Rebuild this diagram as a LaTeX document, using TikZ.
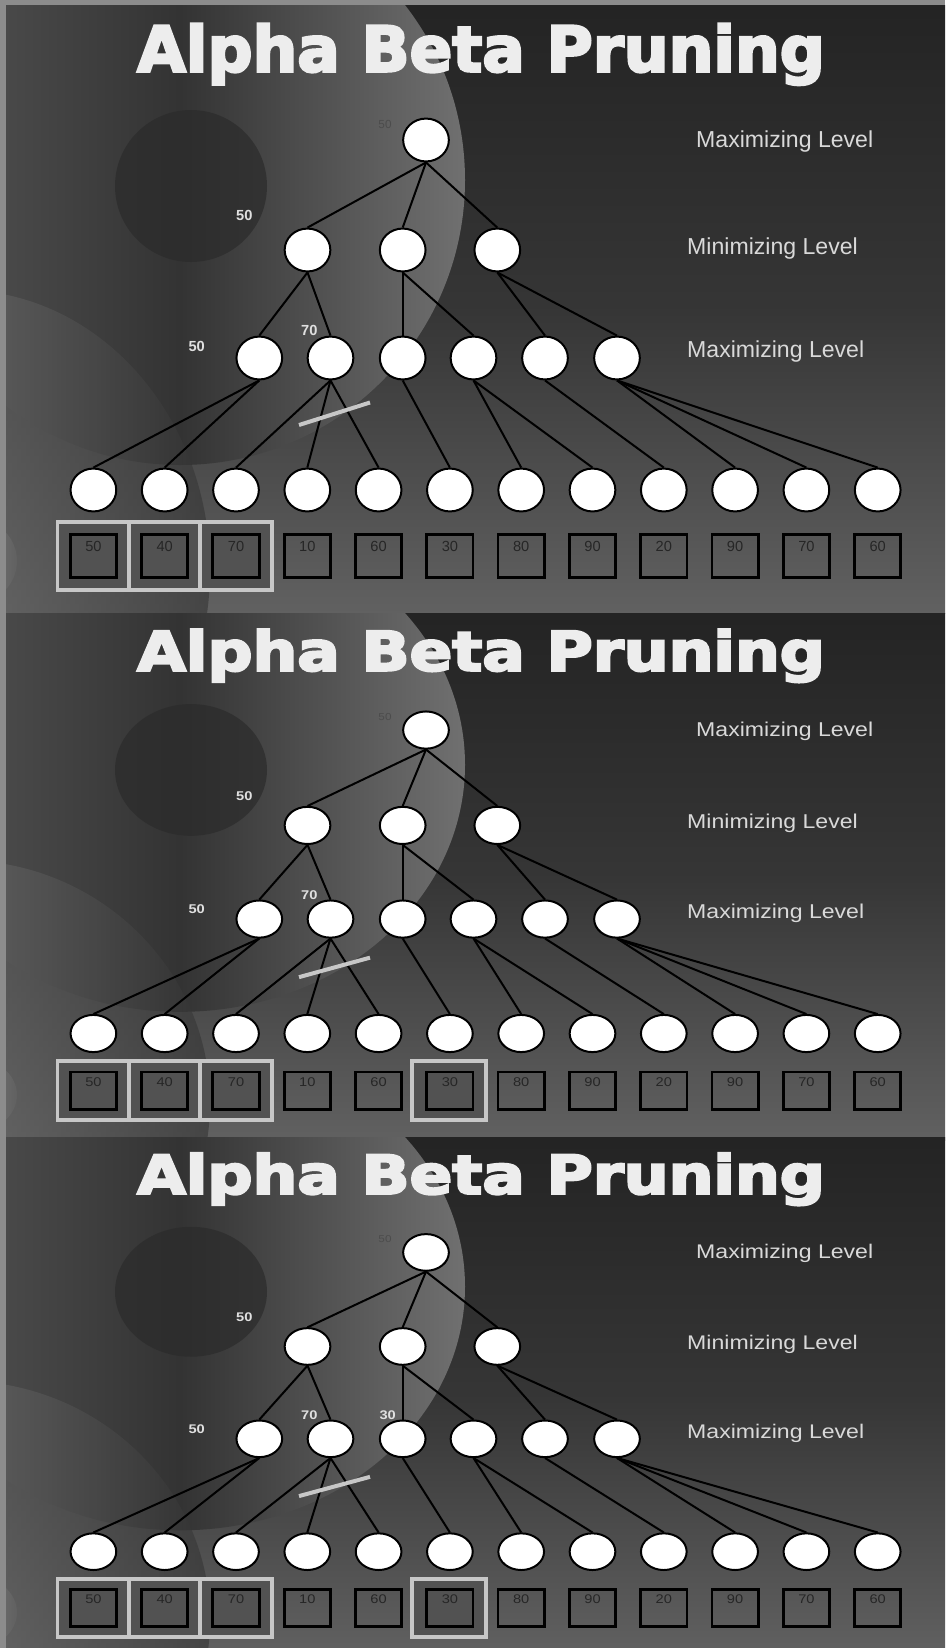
\documentclass[tikz,border=0pt]{standalone}
\usepackage{fontspec}
\setmainfont{Liberation Sans}
\newfontfamily\titlefont[FakeBold=4]{DejaVu Sans Bold}
\usetikzlibrary{positioning, shapes.geometric}

\begin{document}
\begin{tikzpicture}[x=0.03cm, y=-0.03cm,
    tnode/.style={ellipse, draw=black, fill=white, line width=1.7pt,
      minimum width=39pt, minimum height=36.6pt, inner sep=0pt},
    edge/.style={black, line width=1.7pt},
    vbox/.style={draw=black, line width=2.4pt, minimum width=39.5pt,
      minimum height=36.8pt, inner sep=0pt},
    hlbox/.style={draw=black!22, fill=black!68, line width=3.2pt},
    numtxt/.style={text=black!85, font=\fontsize{12.5}{14}\selectfont, inner sep=0pt},
    valtxt/.style={text=black!12, font=\bfseries\fontsize{12.5}{14}\selectfont, inner sep=0pt},
    dimtxt/.style={text=black!70, font=\fontsize{10}{12}\selectfont, inner sep=0pt},
    lvltxt/.style={text=black!15, font=\fontsize{19.7}{22}\selectfont, inner sep=0pt, anchor=base west},
    titletxt/.style={text=black!7, font=\titlefont\fontsize{53.7}{60}\selectfont, inner sep=0pt, anchor=base},
    cut/.style={draw=black!22, line width=3.4pt}]
    \useasboundingbox (0,0) rectangle (945,1648);
    \fill[black!45] (0,0) rectangle (945,1648);
    % one slide per step, each squeezed a little
    \foreach \sy/\ys/\sid in {5/1/1, 613/0.867/2, 1137/0.855/3} {
      \begin{scope}[shift={(0,\sy)}, yscale=\ys, transform shape]
        \clip (6,0) rectangle (945,608);
        % background
        \shade[top color=black!86, bottom color=black!62, middle color=black!79]
          (6,0) rectangle (945,608);
        \shade[left color=black!66, right color=black!56, middle color=black!80]
          (180,175) circle[radius=285];
        \shade[left color=black!62, right color=black!80, middle color=black!58, opacity=0.6]
          (-40,565) ellipse[x radius=250, y radius=280];
        \fill[black!83, opacity=0.7] (191,181) circle[radius=76];
        \shade[left color=black!45, right color=black!62] (-25,556) circle[radius=42];
        % title and level names
        \node[titletxt] (ttl) at (481,66.5) {Alpha Beta Pruning};
        \node[lvltxt] (lv1) at (696,142.5) {Maximizing Level};
        \node[lvltxt] (lv2) at (687,249) {Minimizing Level};
        \node[lvltxt] (lv3) at (687,352.3) {Maximizing Level};
        % tree
        \node[tnode] (r) at (426,135) {};
        \node[tnode] (a1) at (307.5,245) {};
        \node[tnode] (a2) at (402.7,245) {};
        \node[tnode] (a3) at (497.3,245) {};
        \foreach \x [count=\i] in {259.3,330.5,402.7,473.5,545,617}
          \node[tnode] (b\i) at (\x,353) {};
        \foreach \i in {1,...,12}
          \node[tnode] (c\i) at ({93.4+71.3*(\i-1)},485) {};
        \foreach \u/\v in {r/a1, r/a2, r/a3, a1/b1, a1/b2, a2/b3, a2/b4, a3/b5,
            a3/b6, b1/c1, b1/c2, b2/c3, b2/c4, b2/c5, b3/c6, b4/c7, b4/c8,
            b5/c9, b6/c10, b6/c11, b6/c12}
          \draw[edge] (\u.south) -- (\v.north);
        % pruned branch
        \coordinate (cutA) at (299,420);
        \coordinate (cutB) at (370,397.5);
        \draw[cut] (cutA) -- (cutB);
        % backed-up values
        \node[dimtxt] (vr) at (385,119.5) {50};
        \node[valtxt] (va1) at (244.3,210.7) {50};
        \node[valtxt] (vb1) at (196.7,341.7) {50};
        \node[valtxt] (vb2) at (309.3,325.5) {70};
        \ifnum\sid=3
          \node[valtxt] (vb3) at (387.7,325.5) {30};
        \fi
        % visited leaves
        \foreach \x in {93.4,164.7,236}
          \draw[hlbox] (\x-36,517) rectangle (\x+36,584.7);
        \ifnum\sid>1
          \draw[hlbox] (449.1-37,517) rectangle (449.1+37,584.7);
        \fi
        % leaf values
        \foreach \v [count=\i] in {50,40,70,10,60,30,80,90,20,90,70,60} {
          \node[vbox] (d\i) at ({93.4+71.3*(\i-1)},551) {};
          \node[numtxt] (t\i) at ({93.4+71.3*(\i-1)},541) {\v};
        }
      \end{scope}
    }
\end{tikzpicture}
\end{document}
